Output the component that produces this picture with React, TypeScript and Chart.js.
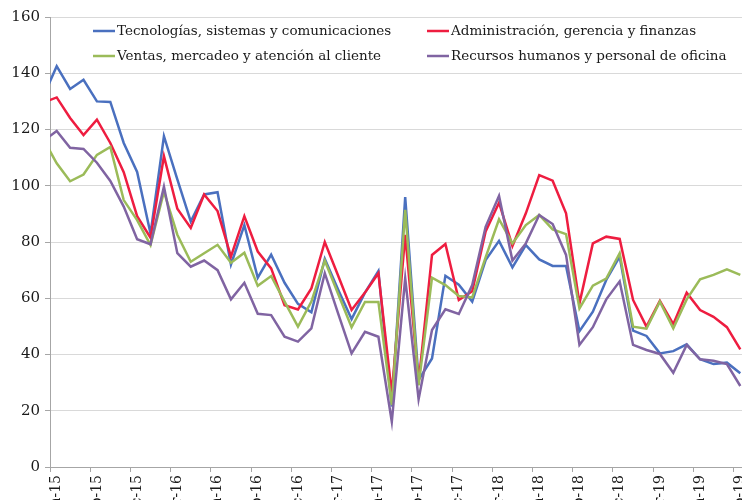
import React, { useEffect, useRef } from 'react';
import { Chart, registerables } from 'chart.js';

Chart.register(...registerables);

// Monthly categories (the first one sits just left of the visible range)
const months = [
  'may-15', 'jun-15', 'jul-15', 'ago-15', 'sep-15', 'oct-15', 'nov-15', 'dic-15',
  'ene-16', 'feb-16', 'mar-16', 'abr-16', 'may-16', 'jun-16', 'jul-16', 'ago-16', 'sep-16', 'oct-16', 'nov-16', 'dic-16',
  'ene-17', 'feb-17', 'mar-17', 'abr-17', 'may-17', 'jun-17', 'jul-17', 'ago-17', 'sep-17', 'oct-17', 'nov-17', 'dic-17',
  'ene-18', 'feb-18', 'mar-18', 'abr-18', 'may-18', 'jun-18', 'jul-18', 'ago-18', 'sep-18', 'oct-18', 'nov-18', 'dic-18',
  'ene-19', 'feb-19', 'mar-19', 'abr-19', 'may-19', 'jun-19', 'jul-19', 'ago-19', 'sep-19',
];
const firstVisibleMonth = 'jun-15';

const tecnologias = [
  131.7, 142.5, 134.4, 137.7, 130, 129.8, 115.2, 104.9, 83, 117.6, 102.3, 87.3, 96.9, 97.7,
  72, 86, 67.3, 75.5, 65.5, 58, 55, 74, 63, 52.6, 62, 69.7, 21.5, 96, 31, 38.6,
  68, 64.8, 58.8, 73.6, 80.4, 71, 78.9, 73.8, 71.5, 71.5, 48.3, 55.2, 66.5, 74.8,
  48.5, 46.6, 40.4, 41.2, 43.6, 38.3, 36.6, 37.1, 33.3,
];
const administracion = [
  129.6, 131.4, 124.1, 118, 123.5, 115.2, 104.8, 89.2, 81.5, 110.5, 91.8, 85, 96.9, 91,
  74.8, 89.2, 76.6, 70.6, 57.5, 56, 63.5, 80, 68, 55.8, 62, 68.9, 26.2, 82.5, 30, 75.4,
  79.3, 59.4, 62.5, 83.7, 94, 78.6, 90.2, 103.8, 101.8, 90.2, 58.2, 79.5, 81.9, 81.1,
  59.4, 49.9, 59.1, 50.8, 62, 55.8, 53.4, 49.7, 41.8,
];
const ventas = [
  116.6, 108, 101.6, 104, 111, 113.8, 94.9, 87.8, 78.9, 97.9, 82.6, 73, 76, 79,
  72.6, 76.2, 64.4, 67.9, 58.8, 49.9, 58.8, 73.4, 61.5, 49.7, 58.7, 58.7, 22, 91.4, 29, 67.3,
  64.7, 60.8, 60.3, 74.5, 88.1, 79.5, 86, 89.6, 84.5, 82.8, 56.4, 64.5, 67, 76,
  49.9, 49.2, 58.8, 49.3, 59.6, 66.7, 68.3, 70.3, 68.3,
];
const recursos = [
  115.9, 119.5, 113.5, 113.1, 108.2, 101.7, 92.6, 81, 79.2, 99.7, 76, 71.2, 73.4, 70,
  59.6, 65.5, 54.5, 54, 46.3, 44.6, 49.3, 68.9, 54.5, 40.4, 48.1, 46.3, 16.1, 67.1, 24.1, 48.7,
  56.1, 54.4, 64.7, 85.4, 96.4, 73.4, 79.5, 89.6, 86.4, 75.4, 43.4, 49.7, 59.6, 66,
  43.4, 41.6, 40.2, 33.5, 43.4, 38.3, 37.8, 36.6, 28.8,
];

const seriesNames = [
  'Tecnologías, sistemas y comunicaciones',
  'Administración, gerencia y finanzas',
  'Ventas, mercadeo y atención al cliente',
  'Recursos humanos y personal de oficina',
];
const seriesColors = ['#4a70bf', '#ee1d40', '#9bbb59', '#8064a2'];

const yMin = 0;
const yMax = 160;
const yStep = 20;

const FONT = '"DejaVu Serif", "Liberation Serif", serif';

const insideLegend = {
  id: 'insideLegend',
  afterDatasetsDraw(chart: any) {
    const { ctx, chartArea } = chart;
    ctx.save();
    ctx.font = `13.5px ${FONT}`;
    ctx.textBaseline = 'middle';
    ctx.textAlign = 'left';
    chart.data.datasets.forEach((ds: any, i: number) => {
      const col = i % 2;
      const row = Math.floor(i / 2);
      const x0 = chartArea.left + (col === 0 ? 43 : 377);
      const y = chartArea.top + 14 + row * 25;
      ctx.strokeStyle = ds.borderColor;
      ctx.lineWidth = 2.5;
      ctx.beginPath();
      ctx.moveTo(x0, y);
      ctx.lineTo(x0 + 22, y);
      ctx.stroke();
      ctx.fillStyle = '#1a1a1a';
      ctx.fillText(ds.label, x0 + 24, y);
    });
    ctx.restore();
  },
};

export default function App() {
  const ref = useRef<HTMLCanvasElement>(null);

  useEffect(() => {
    if (!ref.current) return;
    const values = [tecnologias, administracion, ventas, recursos];
    const chart = new Chart(ref.current, {
      type: 'line',
      data: {
        labels: months,
        datasets: values.map((v, i) => ({
          label: seriesNames[i],
          data: v,
          borderColor: seriesColors[i],
          backgroundColor: seriesColors[i],
          borderWidth: 2.5,
          pointRadius: 0,
          tension: 0,
          fill: false,
          order: 4 - i,
        })),
      },
      options: {
        responsive: false,
        animation: false,
        devicePixelRatio: 1,
        layout: { padding: { top: 17, left: 0, right: 0, bottom: 0 } },
        plugins: {
          legend: { display: false },
          tooltip: { enabled: false },
        },
        scales: {
          x: {
            type: 'category',
            min: firstVisibleMonth,
            offset: true,
            afterFit: (scale: any) => {
              scale.height = 33;
              scale.paddingLeft = 0;
              scale.paddingRight = 0;
            },
            grid: {
              offset: true,
              drawOnChartArea: false,
              drawTicks: true,
              tickLength: 5,
              color: (c: any) => (typeof c.index === 'number' && c.index % 3 === 0 ? '#a6a6a6' : 'rgba(0,0,0,0)'),
            },
            border: { display: true, color: '#a6a6a6', width: 1 },
            ticks: {
              autoSkip: false,
              minRotation: 90,
              maxRotation: 90,
              padding: 3,
              color: '#1a1a1a',
              font: { family: FONT, size: 14 },
              callback: function (this: any, value: any, index: number) {
                return index % 3 === 0 ? this.getLabelForValue(value) : '';
              },
            },
          },
          y: {
            min: yMin,
            max: yMax,
            afterFit: (scale: any) => {
              scale.width = 50;
            },
            grid: {
              color: '#d9d9d9',
              lineWidth: 1,
              drawTicks: true,
              tickLength: 5,
              tickColor: '#a6a6a6',
            },
            border: { display: true, color: '#a6a6a6', width: 1 },
            ticks: {
              stepSize: yStep,
              padding: 5,
              color: '#1a1a1a',
              font: { family: FONT, size: 15 },
            },
          },
        },
      },
      plugins: [insideLegend],
    });
    return () => chart.destroy();
  }, []);

  return (
    <div style={{ position: 'fixed', left: 0, top: 0, width: 742, height: 500, overflow: 'hidden', background: '#fff' }}>
      <canvas ref={ref} width={747} height={500} style={{ display: 'block' }} />
    </div>
  );
}
